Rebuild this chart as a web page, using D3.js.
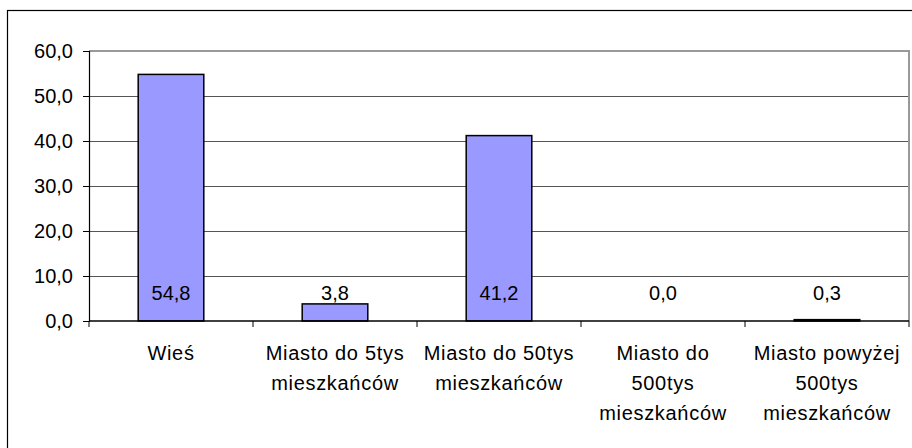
<!DOCTYPE html>
<html>
<head>
<meta charset="utf-8">
<script src="https://cdn.jsdelivr.net/npm/d3@7"></script>
<style>
  body { margin: 0; background: #fff; }
  text { font-family: "Liberation Sans", Arial, sans-serif; }
</style>
</head>
<body>
<div id="chart"></div>
<script>
// data
var categories = ["Wieś", "Miasto do 5tys\nmieszkańców", "Miasto do 50tys\nmieszkańców",
                  "Miasto do\n500tys\nmieszkańców", "Miasto powyżej\n500tys\nmieszkańców"];
var values = [54.8, 3.8, 41.2, 0.0, 0.3];
var yTicks = [0, 10, 20, 30, 40, 50, 60];

var W = 912, H = 448;
var margin = {top: 51, right: 3, bottom: 127, left: 89},
    width = W - margin.left - margin.right,
    height = H - margin.top - margin.bottom;

var svg = d3.select("#chart").append("svg")
    .attr("width", W)
    .attr("height", H);

// outer chart border (only left/top visible in frame)
svg.append("rect")
    .attr("x", 7.5).attr("y", 10.5)
    .attr("width", W + 10).attr("height", H + 10)
    .attr("fill", "none").attr("stroke", "#000").attr("stroke-width", 1.2);

var g = svg.append("g")
    .attr("transform", "translate(" + margin.left + "," + margin.top + ")");

var x = d3.scaleBand()
    .domain(d3.range(categories.length))
    .range([0, width]);

var y = d3.scaleLinear()
    .domain([0, 60])
    .range([height, 0]);

var fmt = function(v) { return d3.format(".1f")(v).replace(".", ","); };

// gridlines
g.selectAll(".grid")
    .data(yTicks.filter(function(d) { return d > 0 && d < 60; }))
    .enter().append("line")
    .attr("x1", 0).attr("x2", width)
    .attr("y1", function(d) { return Math.round(y(d)) + 0.5; })
    .attr("y2", function(d) { return Math.round(y(d)) + 0.5; })
    .attr("stroke", "#555").attr("stroke-width", 1);

// plot area border top/right
g.append("path")
    .attr("d", "M0," + y(60) + "H" + width + "V" + height)
    .attr("fill", "none").attr("stroke", "#999").attr("stroke-width", 2);

// bars
var bw = x.bandwidth() * 0.4;
g.selectAll(".bar")
    .data(values)
    .enter().append("rect")
    .attr("x", function(d, i) { return x(i) + (x.bandwidth() - bw) / 2; })
    .attr("y", function(d) { return y(d); })
    .attr("width", bw)
    .attr("height", function(d) { return height - y(d); })
    .attr("fill", "#9999ff")
    .attr("stroke", function(d) { return d > 0 ? "#000" : "none"; })
    .attr("stroke-width", 1.5);

// value labels
g.selectAll(".vlabel")
    .data(values)
    .enter().append("text")
    .attr("x", function(d, i) { return x(i) + x.bandwidth() / 2; })
    .attr("y", height - 21)
    .attr("text-anchor", "middle")
    .style("font-size", "20px")
    .attr("fill", "#000")
    .text(function(d) { return fmt(d); });

// y axis
var yAxis = g.append("g")
    .call(d3.axisLeft(y).tickValues(yTicks).tickSize(6).tickPadding(10).tickFormat(fmt));
yAxis.select(".domain").attr("stroke", "#000").attr("stroke-width", 1.2);
yAxis.selectAll(".tick line").attr("stroke", "#000");
yAxis.selectAll("text").style("font-size", "20px").attr("fill", "#000");

// x axis
var xAxis = g.append("g")
    .attr("transform", "translate(0," + height + ")");
xAxis.append("line")
    .attr("x1", 0).attr("x2", width)
    .attr("stroke", "#000").attr("stroke-width", 1.5);
xAxis.selectAll(".xtick")
    .data(d3.range(categories.length + 1))
    .enter().append("line")
    .attr("x1", function(i) { return i < categories.length ? x(i) : width; })
    .attr("x2", function(i) { return i < categories.length ? x(i) : width; })
    .attr("y1", 0).attr("y2", 6)
    .attr("stroke", "#000");

var labels = xAxis.selectAll(".xlabel")
    .data(categories)
    .enter().append("text")
    .attr("text-anchor", "middle")
    .attr("transform", function(d, i) { return "translate(" + (x(i) + x.bandwidth() / 2) + ",39)"; })
    .style("font-size", "20px")
    .style("letter-spacing", "0.7px")
    .attr("fill", "#000");
labels.each(function(d) {
    var t = d3.select(this);
    d.split("\n").forEach(function(line, k) {
        t.append("tspan").attr("x", 0).attr("y", k * 30).text(line);
    });
});
</script>
</body>
</html>
